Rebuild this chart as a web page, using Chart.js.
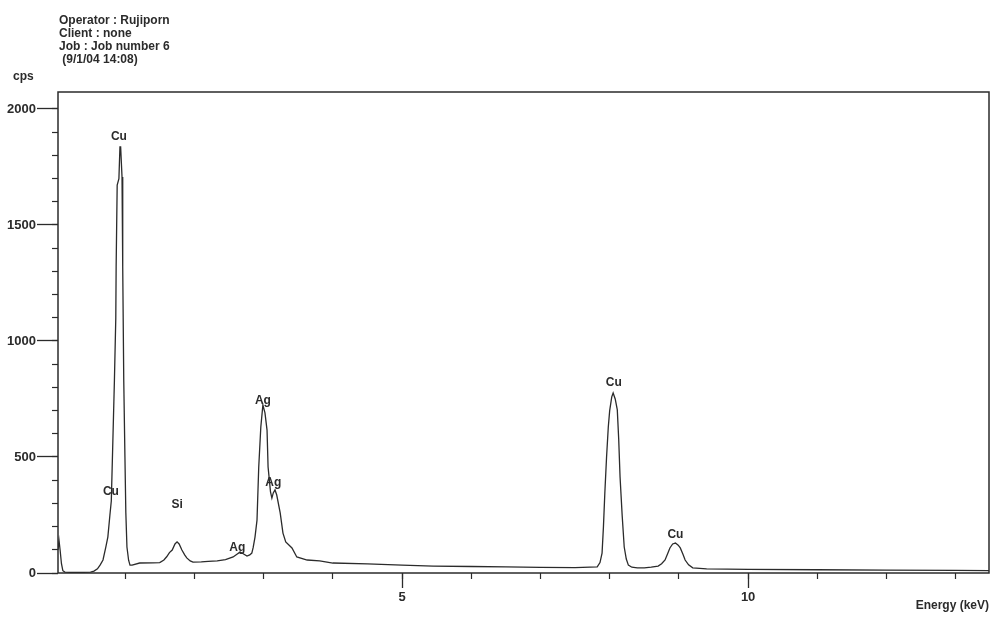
<!DOCTYPE html>
<html>
<head>
<meta charset="utf-8">
<script src="https://cdn.jsdelivr.net/npm/chart.js@4.4.0/dist/chart.umd.min.js"></script>
<style>
  html, body { margin: 0; padding: 0; background: #fff; }
  #wrap { width: 992px; height: 624px; }
</style>
</head>
<body>
<div id="wrap"><canvas id="spectrum" width="992" height="624"></canvas></div>
<script>
// EDS spectrum (energy in keV, counts in cps)
var energy = [0.03, 0.045, 0.06, 0.08, 0.10, 0.13, 0.2, 0.3, 0.4, 0.5, 0.55, 0.6, 0.64, 0.68, 0.72, 0.75, 0.78,
  0.80, 0.82, 0.845, 0.865, 0.87, 0.885, 0.91, 0.925, 0.935, 0.955, 0.965, 0.98, 0.997, 1.01, 1.026, 1.05, 1.07,
  1.1, 1.21, 1.4, 1.5, 1.56, 1.60, 1.64, 1.68, 1.72, 1.75, 1.78, 1.82, 1.86, 1.89, 1.94, 1.98, 2.1, 2.2, 2.33,
  2.45, 2.56, 2.62, 2.66, 2.7, 2.76, 2.8, 2.83, 2.85, 2.876, 2.905, 2.93, 2.96, 2.99, 3.02, 3.05, 3.065, 3.1,
  3.12, 3.14, 3.165, 3.19, 3.24, 3.28, 3.32, 3.41, 3.48, 3.63, 3.81, 4.0, 4.5, 5.0, 5.45, 6.0, 6.5, 7.0, 7.5,
  7.82, 7.86, 7.89, 7.91, 7.93, 7.955, 7.98, 8.0, 8.03, 8.05, 8.08, 8.11, 8.13, 8.15, 8.18, 8.21, 8.24, 8.27,
  8.32, 8.4, 8.5, 8.6, 8.7, 8.75, 8.80, 8.84, 8.87, 8.91, 8.95, 8.99, 9.02, 9.06, 9.09, 9.14, 9.2, 9.4, 10, 11,
  12, 13, 13.48];
var counts = [100, 140, 100, 40, 10, 4, 3, 3, 3, 4, 8, 18, 35, 56, 110, 155, 250,
  310, 540, 830, 1100, 1320, 1672, 1700, 1836, 1836, 1707, 1320, 830, 500, 260, 112, 55, 34,
  34, 43, 44, 45, 56, 70, 88, 99, 125, 134, 125, 99, 78, 65, 52, 47, 48, 50, 52,
  58, 69, 82, 90, 84, 73, 78, 86, 110, 155, 228, 457, 629, 724, 690, 616, 457, 350,
  323, 345, 358, 336, 259, 172, 134, 108, 69, 56, 52, 43, 39, 34, 30, 28, 26, 24, 23,
  26, 45, 86, 200, 345, 500, 629, 700, 759, 776, 750, 703, 580, 414, 250, 112, 60, 34,
  25, 22, 22, 25, 30, 40, 56, 85, 108, 125, 129, 120, 108, 80, 56, 35, 22, 18, 16, 14,
  12, 11, 10];

// axis ticks
var xMajorTicks = [5, 10];
var xMinorTicks = [1, 2, 3, 4, 5, 6, 7, 8, 9, 10, 11, 12, 13];
var yMajorTicks = [0, 500, 1000, 1500, 2000];
var yMinorTicks = [0, 100, 200, 300, 400, 500, 600, 700, 800, 900, 1000, 1100, 1200, 1300, 1400, 1500,
  1600, 1700, 1800, 1900, 2000];

// peak annotations: element, energy of label centre, cps of label centre
var peakNames = ['Cu', 'Cu', 'Si', 'Ag', 'Ag', 'Ag', 'Cu', 'Cu'];
var peakKeV = [0.91, 0.795, 1.75, 2.62, 2.99, 3.14, 8.06, 8.95];
var peakCps = [1879, 349, 293, 108, 741, 388, 819, 164];

var headerLines = ['Operator : Rujiporn', 'Client : none', 'Job : Job number 6', ' (9/1/04 14:08)'];

var ink = '#2b2b2b';
var family = '"Liberation Sans", Arial, sans-serif';
var font = 'bold 12px ' + family;

var points = energy.map(function(e, i) { return {x: e, y: counts[i]}; });

function fixedTicks(values) {
  return function(scale) {
    scale.ticks = values.map(function(v) { return {value: v}; });
  };
}

var textPlugin = {
  id: 'spectrumText',
  afterDraw: function(chart) {
    var ctx = chart.ctx;
    var area = chart.chartArea;
    var xs = chart.scales.x, ys = chart.scales.y;
    ctx.save();
    // frame round the plot
    ctx.strokeStyle = ink;
    ctx.lineWidth = 1.5;
    ctx.strokeRect(area.left, area.top, area.right - area.left, area.bottom - area.top);

    ctx.fillStyle = ink;
    ctx.font = font;
    ctx.textBaseline = 'middle';
    ctx.textAlign = 'left';
    for (var i = 0; i < headerLines.length; i++) {
      ctx.fillText(headerLines[i], 59, 21 + i * 13);
    }
    ctx.fillText('cps', 13, 77);
    ctx.textAlign = 'right';
    ctx.fillText('Energy (keV)', 989, 606);

    // peak labels
    ctx.textAlign = 'center';
    for (var j = 0; j < peakNames.length; j++) {
      ctx.fillText(peakNames[j], xs.getPixelForValue(peakKeV[j]), ys.getPixelForValue(peakCps[j]));
    }
    ctx.restore();
  }
};

var ctx = document.getElementById('spectrum').getContext('2d');
new Chart(ctx, {
  type: 'line',
  data: {
    datasets: [{
      data: points,
      borderColor: ink,
      borderWidth: 1.3,
      pointRadius: 0,
      tension: 0,
      fill: false,
      xAxisID: 'x',
      yAxisID: 'y'
    }]
  },
  options: {
    responsive: false,
    animation: false,
    layout: { padding: { top: 92, right: 3, left: 0, bottom: 0 } },
    plugins: { legend: { display: false }, tooltip: { enabled: false } },
    scales: {
      x: {
        type: 'linear', position: 'bottom', weight: 1,
        min: 0.03, max: 13.48,
        afterBuildTicks: fixedTicks(xMajorTicks),
        afterFit: function(s) { s.height = 51; },
        border: { display: false },
        grid: { drawOnChartArea: false, tickLength: 15, tickColor: ink, tickWidth: 1.3 },
        ticks: { padding: 2, color: ink, font: { family: family, size: 13, weight: 'bold' },
          callback: function(v) { return String(v); } }
      },
      x2: {
        type: 'linear', position: 'bottom', weight: 0,
        min: 0.03, max: 13.48,
        afterBuildTicks: fixedTicks(xMinorTicks),
        afterFit: function(s) { s.height = 0; },
        border: { display: false },
        grid: { drawOnChartArea: false, tickLength: 6, tickColor: ink, tickWidth: 1.2 },
        ticks: { display: false }
      },
      y: {
        type: 'linear', position: 'left', weight: 1,
        min: 0, max: 2073,
        afterBuildTicks: fixedTicks(yMajorTicks),
        afterFit: function(s) { s.width = 58; },
        border: { display: false },
        grid: { drawOnChartArea: false, tickLength: 21, tickColor: ink, tickWidth: 1.3 },
        ticks: { padding: 1, color: ink, font: { family: family, size: 13, weight: 'bold' },
          callback: function(v) { return String(v); } }
      },
      y2: {
        type: 'linear', position: 'left', weight: 0,
        min: 0, max: 2073,
        afterBuildTicks: fixedTicks(yMinorTicks),
        afterFit: function(s) { s.width = 0; },
        border: { display: false },
        grid: { drawOnChartArea: false, tickLength: 6, tickColor: ink, tickWidth: 1.2 },
        ticks: { display: false }
      }
    }
  },
  plugins: [textPlugin]
});
</script>
</body>
</html>
